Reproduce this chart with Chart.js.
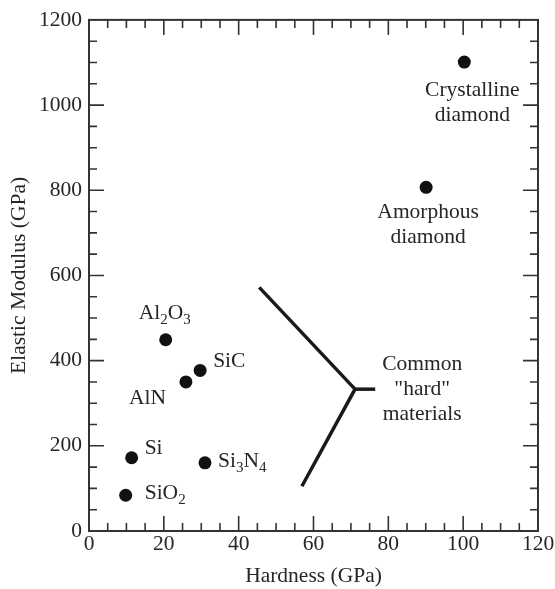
<!DOCTYPE html>
<html>
<head>
<meta charset="utf-8">
<script src="https://cdn.jsdelivr.net/npm/chart.js@4.4.1/dist/chart.umd.min.js"></script>
<style>
  html, body { margin: 0; padding: 0; background: #fff; }
  #wrap { width: 555px; height: 589px; }
</style>
</head>
<body>
<div id="wrap"><canvas id="chart"></canvas></div>
<script>
// ---- data ----
const materials = ["Al_2O_3", "SiC", "AlN", "Si", "Si_3N_4", "SiO_2", "Crystalline|diamond", "Amorphous|diamond"];
const hardness  = [20.5, 29.7, 25.9, 11.4, 31.0, 9.8, 100.3, 90.1];
const modulus   = [449, 377, 350, 172, 160, 84, 1101, 807];

// the "common hard materials" bracket
const bracketX = [45.5, 71.1, 56.9];
const bracketY = [572, 333, 105];
const stubX = [71.1, 76.5];
const stubY = [333, 333];
const bracketText = ["Common", "\"hard\"", "materials"];

const xTicks = [0, 20, 40, 60, 80, 100, 120];
const yTicks = [0, 200, 400, 600, 800, 1000, 1200];
const xMinorStep = 5;
const yMinorStep = 50;

// ---- label placement (pixels from the dot) ----
const labelPlace = {
    "Al_2O_3": { align: "center", dx: -1, dy: -21 },
    "SiC": { align: "left", dx: 13, dy: -3 },
    "AlN": { align: "right", dx: -20, dy: 22 },
    "Si": { align: "left", dx: 13, dy: -4 },
    "Si_3N_4": { align: "left", dx: 13, dy: 4 },
    "SiO_2": { align: "left", dx: 19, dy: 4 },
    "Crystalline|diamond": { align: "center", dx: 8, dy: 34 },
    "Amorphous|diamond": { align: "center", dx: 2, dy: 31 }
};

const FONT = "'Liberation Serif', 'Times New Roman', serif";
const FS = 21.5;
const SUB_FS = 15;
const INK = "#262626";
const LINE_H = 25;

function toXY(xs, ys) {
    return xs.map((x, i) => ({ x: x, y: ys[i] }));
}

// text with single-digit subscripts written as _n
function drawRich(ctx, text, x, y, align) {
    const parts = text.split(/(_\d)/).filter(s => s.length);
    const segs = parts.map(p => p[0] === "_" ? { t: p.slice(1), sub: true } : { t: p, sub: false });
    let total = 0;
    segs.forEach(s => {
        ctx.font = (s.sub ? SUB_FS : FS) + "px " + FONT;
        s.w = ctx.measureText(s.t).width;
        total += s.w;
    });
    let cx = x;
    if (align === "center") cx = x - total / 2;
    if (align === "right") cx = x - total;
    ctx.textAlign = "left";
    ctx.textBaseline = "alphabetic";
    segs.forEach(s => {
        ctx.font = (s.sub ? SUB_FS : FS) + "px " + FONT;
        ctx.fillText(s.t, cx, s.sub ? y + 5 : y);
        cx += s.w;
    });
}

const frameAndLabels = {
    id: "frameAndLabels",
    afterDraw(chart) {
        const ctx = chart.ctx;
        const a = chart.chartArea;
        const xs = chart.scales.x, ys = chart.scales.y;
        ctx.save();
        ctx.strokeStyle = "#333";
        ctx.lineWidth = 2;
        ctx.strokeRect(a.left, a.top, a.right - a.left, a.bottom - a.top);

        // inward ticks on all four sides
        ctx.lineWidth = 1.6;
        ctx.beginPath();
        for (let v = xs.min + xMinorStep; v < xs.max; v += xMinorStep) {
            const px = xs.getPixelForValue(v);
            const len = v % 20 === 0 ? 15 : 8;
            ctx.moveTo(px, a.bottom); ctx.lineTo(px, a.bottom - len);
            ctx.moveTo(px, a.top); ctx.lineTo(px, a.top + len);
        }
        for (let v = ys.min + yMinorStep; v < ys.max; v += yMinorStep) {
            const py = ys.getPixelForValue(v);
            const len = v % 200 === 0 ? 15 : 8;
            ctx.moveTo(a.left, py); ctx.lineTo(a.left + len, py);
            ctx.moveTo(a.right, py); ctx.lineTo(a.right - len, py);
        }
        ctx.stroke();

        // material labels
        ctx.fillStyle = INK;
        materials.forEach((name, i) => {
            const p = labelPlace[name];
            const px = xs.getPixelForValue(hardness[i]) + p.dx;
            const py = ys.getPixelForValue(modulus[i]) + p.dy;
            name.split("|").forEach((line, k) => drawRich(ctx, line, px, py + k * LINE_H, p.align));
        });

        // bracket caption
        const bx = xs.getPixelForValue(stubX[1]) + 47;
        const by = ys.getPixelForValue(stubY[1]) - 19;
        bracketText.forEach((line, k) => drawRich(ctx, line, bx, by + k * LINE_H, "center"));
        ctx.restore();
    }
};

new Chart(document.getElementById("chart"), {
    type: "scatter",
    data: {
        datasets: [
            {
                label: "materials",
                data: toXY(hardness, modulus),
                backgroundColor: "#111",
                borderWidth: 0,
                pointRadius: 6.5,
                pointHoverRadius: 6.5
            },
            {
                label: "bracket",
                data: toXY(bracketX, bracketY),
                showLine: true,
                borderColor: "#1a1a1a",
                borderWidth: 3.5,
                pointRadius: 0
            },
            {
                label: "stub",
                data: toXY(stubX, stubY),
                showLine: true,
                borderColor: "#1a1a1a",
                borderWidth: 3.5,
                pointRadius: 0
            }
        ]
    },
    options: {
        responsive: true,
        maintainAspectRatio: false,
        animation: false,
        layout: { padding: { top: 19, right: 17, bottom: 0, left: 0 } },
        plugins: {
            legend: { display: false },
            tooltip: { enabled: false }
        },
        scales: {
            x: {
                type: "linear",
                min: 0,
                max: 120,
                afterBuildTicks: s => { s.ticks = xTicks.map(v => ({ value: v })); },
                afterFit: s => { s.height = 58; },
                grid: { display: false, drawTicks: false },
                border: { display: false },
                ticks: { color: INK, padding: 0, font: { family: FONT, size: FS }, callback: v => String(v) },
                title: {
                    display: true,
                    text: "Hardness (GPa)",
                    color: INK,
                    padding: { top: 0, bottom: 0 },
                    font: { family: FONT, size: FS }
                }
            },
            y: {
                type: "linear",
                min: 0,
                max: 1200,
                afterBuildTicks: s => { s.ticks = yTicks.map(v => ({ value: v })); },
                afterFit: s => { s.width = 89; },
                grid: { display: false, drawTicks: false },
                border: { display: false },
                ticks: { color: INK, padding: 7, font: { family: FONT, size: FS }, callback: v => String(v) },
                title: {
                    display: true,
                    text: "Elastic Modulus (GPa)",
                    color: INK,
                    padding: { top: 6, bottom: 0 },
                    font: { family: FONT, size: FS }
                }
            }
        }
    },
    plugins: [frameAndLabels]
});
</script>
</body>
</html>
